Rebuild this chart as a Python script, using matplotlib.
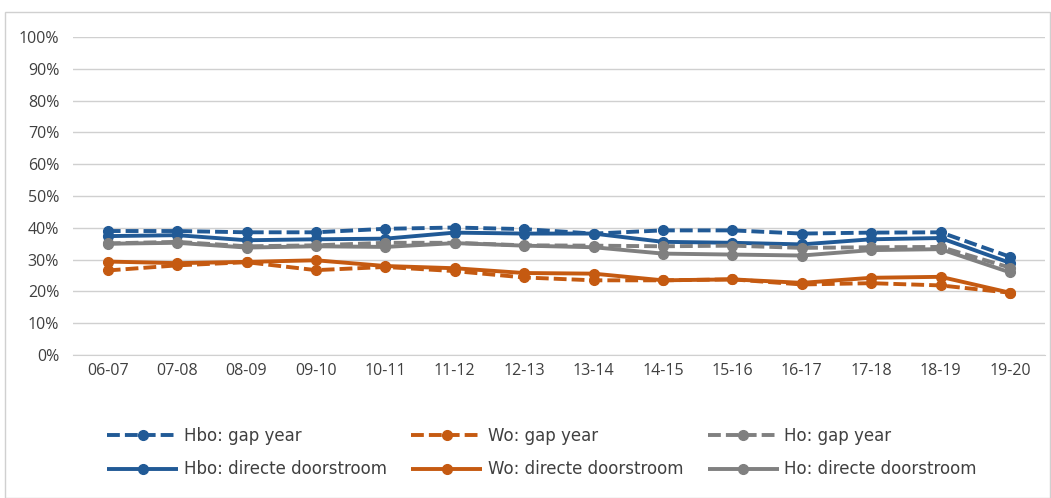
import matplotlib
matplotlib.use("Agg")
import matplotlib.pyplot as plt
from matplotlib.patches import Rectangle
from matplotlib.ticker import FuncFormatter, MultipleLocator

years = ["06-07", "07-08", "08-09", "09-10", "10-11", "11-12", "12-13",
         "13-14", "14-15", "15-16", "16-17", "17-18", "18-19", "19-20"]

hbo_gap = [39.0, 39.0, 38.6, 38.6, 39.7, 40.1, 39.6, 38.2, 39.2, 39.2, 38.2, 38.5, 38.6, 30.9]
hbo_direct = [37.4, 37.7, 36.1, 36.4, 36.6, 38.5, 38.2, 38.2, 35.6, 35.3, 34.8, 36.4, 36.8, 29.0]
wo_gap = [26.6, 28.2, 29.2, 26.7, 27.7, 26.4, 24.4, 23.5, 23.5, 23.8, 22.2, 22.6, 21.9, 19.6]
wo_direct = [29.4, 28.9, 29.3, 29.8, 28.0, 27.3, 25.8, 25.6, 23.5, 23.8, 22.7, 24.3, 24.6, 19.6]
ho_gap = [35.1, 35.6, 34.2, 34.5, 35.3, 35.3, 34.5, 34.4, 34.2, 34.4, 33.7, 33.9, 34.0, 27.5]
ho_direct = [35.0, 35.3, 33.8, 34.2, 34.0, 35.2, 34.4, 33.9, 31.9, 31.6, 31.3, 33.0, 33.3, 26.0]

BLUE = "#215A96"
ORANGE = "#C55A11"
GRAY = "#808080"
TEXT = "#404040"

series = [
    ("Hbo: gap year", hbo_gap, BLUE, "dashed"),
    ("Hbo: directe doorstroom", hbo_direct, BLUE, "solid"),
    ("Wo: gap year", wo_gap, ORANGE, "dashed"),
    ("Wo: directe doorstroom", wo_direct, ORANGE, "solid"),
    ("Ho: gap year", ho_gap, GRAY, "dashed"),
    ("Ho: directe doorstroom", ho_direct, GRAY, "solid"),
]

plt.rcParams["font.family"] = ["Open Sans", "DejaVu Sans"]

fig = plt.figure(figsize=(10.51, 4.98), dpi=100)
ax = fig.add_axes([0.0695, 0.287, 0.9245, 0.6387])

# draw order: dashed in front as in the reference
order = [5, 3, 1, 4, 2, 0]
handles = {}
x = list(range(len(years)))
for i in order:
    label, vals, color, style = series[i]
    ls = (0, (3.3, 1.3)) if style == "dashed" else "-"
    (h,) = ax.plot(x, vals, color=color, linestyle=ls, linewidth=2.8,
                   marker="o", markersize=7, label=label, zorder=3,
                   solid_capstyle="butt", dash_capstyle="butt")
    handles[i] = h

ax.set_xlim(-0.5, len(years) - 0.5)
ax.set_ylim(0, 100)
ax.yaxis.set_major_locator(MultipleLocator(10))
ax.yaxis.set_major_formatter(FuncFormatter(lambda v, p: f"{v:.0f}%"))
ax.set_xticks(x)
ax.set_xticklabels(years)
ax.grid(axis="y", color="#D0D0D0", linewidth=1.0, zorder=0)
ax.set_axisbelow(True)
for s in ["top", "right", "left"]:
    ax.spines[s].set_visible(False)
ax.spines["bottom"].set_color("#D0D0D0")
ax.tick_params(axis="both", length=0, labelsize=11.5, colors=TEXT, pad=6)
ax.tick_params(axis="y", pad=10)

leg = fig.legend([handles[i] for i in range(6)], [s[0] for s in series],
                 loc="center left", bbox_to_anchor=(107 / 1051, 0.0914), ncol=3,
                 frameon=False, borderpad=0, borderaxespad=0,
                 prop={"family": "DejaVu Sans", "size": 12},
                 handlelength=4.26, columnspacing=1.44, labelspacing=0.95,
                 handletextpad=0.36, labelcolor=TEXT)

fig.add_artist(Rectangle((0.005, 0.0), 0.994, 0.976, transform=fig.transFigure,
                         fill=False, edgecolor="#D0D0D0", linewidth=1.0))

fig.savefig("out.png", dpi=100)
